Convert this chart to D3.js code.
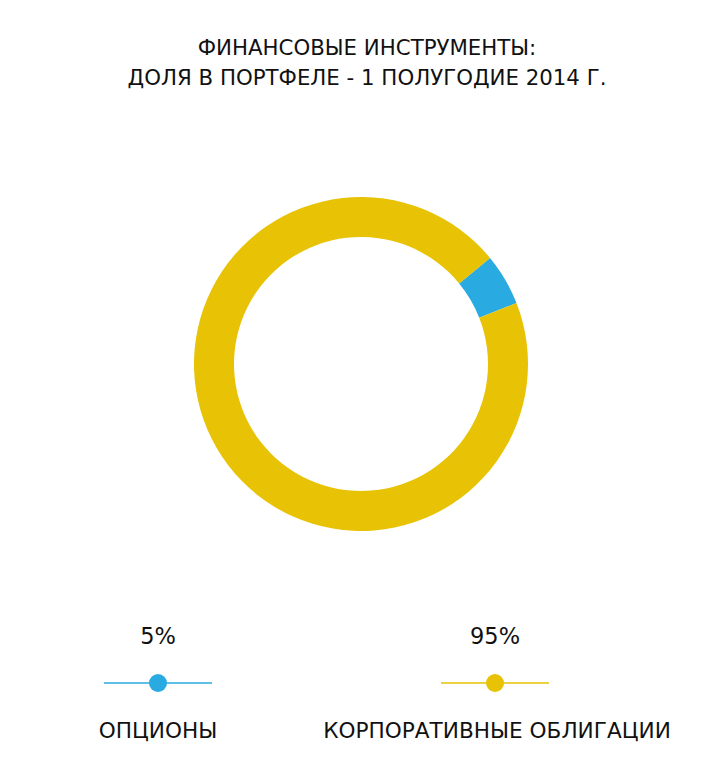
<!DOCTYPE html>
<html><head><meta charset="utf-8">
<script src="https://cdn.jsdelivr.net/npm/d3@7"></script>
<style>body{margin:0;background:#fff}svg{display:block}text{font-family:"DejaVu Sans",sans-serif;fill:#111}</style>
</head><body><svg id="c" width="720" height="780"></svg>
<script>
const titleLines = ["ФИНАНСОВЫЕ ИНСТРУМЕНТЫ:", "ДОЛЯ В ПОРТФЕЛЕ - 1 ПОЛУГОДИЕ 2014 Г."];
const categories = ["ОПЦИОНЫ", "КОРПОРАТИВНЫЕ ОБЛИГАЦИИ"];
const values = [5, 95];
const labels = ["5%", "95%"];
const colors = ["#29abe2", "#e8c204"];

const svg = d3.select("#c");
const cx = 361, cy = 364, rOut = 167, rIn = 127;

svg.selectAll("text.title").data(titleLines).join("text")
  .attr("class","title").attr("x",367).attr("y",(d,i)=>55+i*30)
  .attr("text-anchor","middle").style("font-size","21.3px").text(d=>d);

const pie = d3.pie().sort(null).value(d=>d)
  .startAngle(50.6*Math.PI/180).endAngle(50.6*Math.PI/180+2*Math.PI);
const arc = d3.arc().innerRadius(rIn).outerRadius(rOut);
svg.append("g").attr("transform",`translate(${cx},${cy})`)
  .selectAll("path").data(pie(values)).join("path")
  .attr("d",arc).attr("fill",(d,i)=>colors[i]);

const lx = d3.scalePoint().domain(categories).range([158,495]);
const lg = svg.selectAll("g.leg").data(categories).join("g").attr("class","leg")
  .attr("transform",d=>`translate(${lx(d)},0)`);
lg.append("line").attr("x1",-54).attr("x2",54).attr("y1",683).attr("y2",683)
  .attr("stroke",(d,i)=>colors[i]).attr("stroke-width",1.3);
lg.append("circle").attr("cy",683).attr("r",9).attr("fill",(d,i)=>colors[i]);
lg.append("text").attr("y",644).attr("text-anchor","middle").style("font-size","22.5px").text((d,i)=>labels[i]);
lg.append("text").attr("x",(d,i)=>i?2:0).attr("y",738).attr("text-anchor","middle").style("font-size","21.6px").text(d=>d);
</script></body></html>
